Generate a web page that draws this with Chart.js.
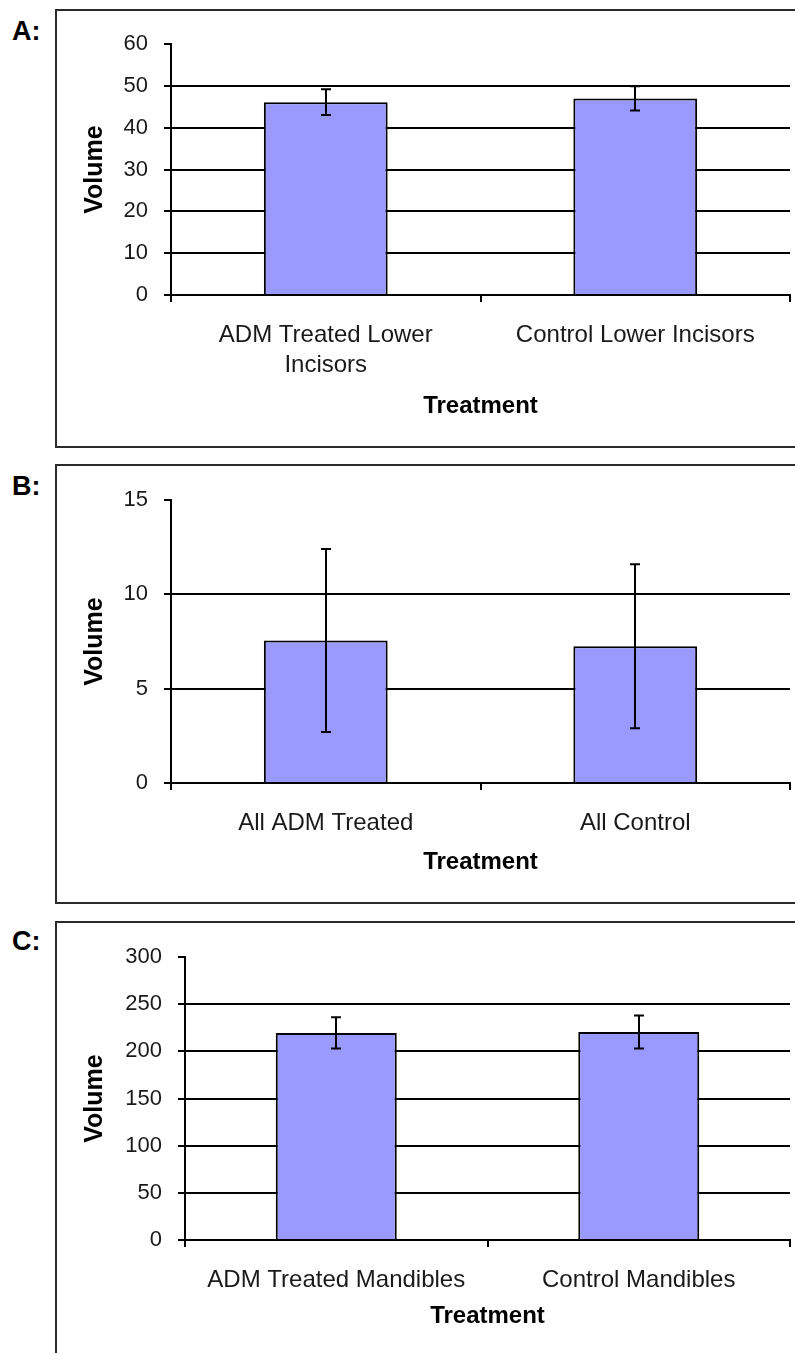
<!DOCTYPE html>
<html>
<head>
<meta charset="utf-8">
<title>Volume by treatment</title>
<script src="https://cdn.jsdelivr.net/npm/chart.js@4.4.1/dist/chart.umd.min.js"></script>
<style>
  body { margin: 0; background: #fff; width: 795px; height: 1353px; overflow: hidden; position: relative; }
  .panel { position: absolute; left: 55px; width: 760px; border: 2px solid #2b2b2b; box-sizing: border-box; }
  .tag { position: absolute; left: 12px; font: bold 27px "Liberation Sans", Arial, sans-serif; line-height: 30px; color: #000; }
  canvas { position: absolute; left: 57px; }
</style>
</head>
<body>
<div class="panel" style="top:9px;height:439px"></div>
<div class="panel" style="top:464px;height:440px"></div>
<div class="panel" style="top:921px;height:460px"></div>
<div class="tag" style="top:16px">A:</div>
<div class="tag" style="top:471px">B:</div>
<div class="tag" style="top:926px">C:</div>
<canvas id="chartA" width="738" height="435" style="top:11px"></canvas>
<canvas id="chartB" width="738" height="436" style="top:466px"></canvas>
<canvas id="chartC" width="738" height="430" style="top:923px"></canvas>
<script>
// A: lower incisors
const categoriesA = [['ADM Treated Lower', 'Incisors'], 'Control Lower Incisors'];
const meansA = [46.1, 47.0];
const errorsA = [3.1, 2.9];
const yMaxA = 60, yStepA = 10;

// B: all teeth
const categoriesB = ['All ADM Treated', 'All Control'];
const meansB = [7.55, 7.25];
const errorsB = [4.85, 4.35];
const yMaxB = 15, yStepB = 5;

// C: mandibles
const categoriesC = ['ADM Treated Mandibles', 'Control Mandibles'];
const meansC = [219.5, 220.5];
const errorsC = [16.5, 17.5];
const yMaxC = 300, yStepC = 50;

const FONT = '"Liberation Sans", Arial, sans-serif';
const CANVAS_LEFT = 57;

// vertical error bars with flat caps, drawn over the bars
const errorBars = {
    id: 'errorBars',
    afterDatasetsDraw(chart, args, opts) {
        const ctx = chart.ctx;
        const y = chart.scales.y;
        const meta = chart.getDatasetMeta(0);
        const values = chart.data.datasets[0].data;
        ctx.save();
        ctx.strokeStyle = '#000';
        ctx.lineWidth = 2;
        meta.data.forEach((bar, i) => {
            const top = y.getPixelForValue(values[i] + opts.errors[i]);
            const bottom = y.getPixelForValue(values[i] - opts.errors[i]);
            const x = Math.round(bar.x);
            ctx.beginPath();
            ctx.moveTo(x, top);
            ctx.lineTo(x, bottom);
            ctx.moveTo(x - 5, top);
            ctx.lineTo(x + 5, top);
            ctx.moveTo(x - 5, bottom);
            ctx.lineTo(x + 5, bottom);
            ctx.stroke();
        });
        ctx.restore();
    }
};

function makeChart(id, cfg) {
    const canvas = document.getElementById(id);
    const canvasTop = parseInt(canvas.style.top, 10);
    const canvasBottom = canvasTop + canvas.height;

    return new Chart(canvas.getContext('2d'), {
        type: 'bar',
        data: {
            labels: cfg.labels,
            datasets: [{
                data: cfg.means,
                backgroundColor: '#9999ff',
                borderColor: '#000',
                borderWidth: 2,
                barPercentage: 0.4,
                categoryPercentage: 1
            }]
        },
        options: {
            responsive: false,
            animation: false,
            layout: {
                padding: { top: cfg.areaTop - canvasTop, right: 5, left: 0, bottom: 0 }
            },
            plugins: {
                legend: { display: false },
                tooltip: { enabled: false },
                errorBars: { errors: cfg.errors }
            },
            scales: {
                x: {
                    offset: true,
                    grid: {
                        offset: true,
                        drawOnChartArea: false,
                        tickLength: 7,
                        color: '#000',
                        lineWidth: 2
                    },
                    border: { color: '#000', width: 2 },
                    ticks: {
                        color: '#1a1a1a',
                        padding: 18,
                        maxRotation: 0,
                        autoSkip: false,
                        font: { family: FONT, size: 24, lineHeight: 1.25 }
                    },
                    title: {
                        display: true,
                        text: 'Treatment',
                        color: '#000',
                        padding: { top: 0, bottom: cfg.titlePad },
                        font: { family: FONT, size: 24, weight: 'bold', lineHeight: 1.2 }
                    },
                    afterFit: s => { s.height = canvasBottom - cfg.areaBottom; }
                },
                y: {
                    min: 0,
                    max: cfg.max,
                    ticks: {
                        stepSize: cfg.step,
                        color: '#1a1a1a',
                        padding: 16,
                        font: { family: FONT, size: 22 }
                    },
                    grid: {
                        color: c => (c.tick && c.tick.value === cfg.max) ? 'rgba(0,0,0,0)' : '#000',
                        tickColor: '#000',
                        tickLength: 7,
                        lineWidth: 2
                    },
                    border: { color: '#000', width: 2 },
                    title: {
                        display: true,
                        text: 'Volume',
                        color: '#000',
                        padding: { top: 23, bottom: 0 },
                        font: { family: FONT, size: 25, weight: 'bold', lineHeight: 1.2 }
                    },
                    afterFit: s => { s.width = cfg.areaLeft - CANVAS_LEFT; }
                }
            }
        },
        plugins: [errorBars]
    });
}

makeChart('chartA', {
    labels: categoriesA, means: meansA, errors: errorsA, max: yMaxA, step: yStepA,
    areaLeft: 171, areaTop: 44, areaBottom: 295, titlePad: 25
});
makeChart('chartB', {
    labels: categoriesB, means: meansB, errors: errorsB, max: yMaxB, step: yStepB,
    areaLeft: 171, areaTop: 500, areaBottom: 783, titlePad: 25
});
makeChart('chartC', {
    labels: categoriesC, means: meansC, errors: errorsC, max: yMaxC, step: yStepC,
    areaLeft: 185, areaTop: 957, areaBottom: 1240, titlePad: 22
});
</script>
</body>
</html>
